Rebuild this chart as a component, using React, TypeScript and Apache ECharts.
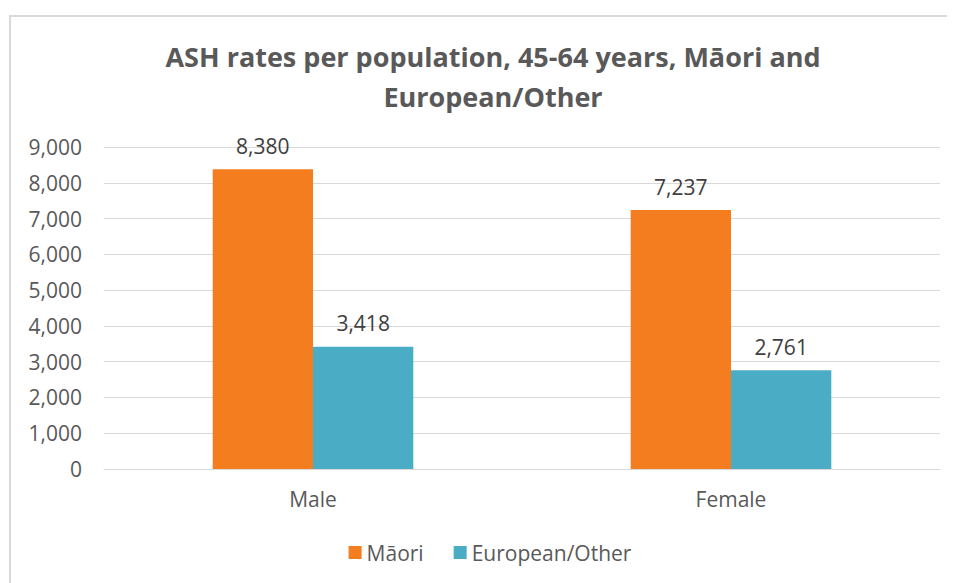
import React, { useEffect, useRef } from "react";
import * as echarts from "echarts";

const categories = ["Male", "Female"];
const maoriValues = [8380, 7237];
const europeanValues = [3418, 2761];
const seriesNames = ["Māori", "European/Other"];
const titleText = "ASH rates per population, 45-64 years, Māori and\nEuropean/Other";

export default function App() {
  const ref = useRef<HTMLDivElement>(null);
  useEffect(() => {
    if (!ref.current) return;
    const chart = echarts.init(ref.current, null, { renderer: "svg" });
    const font = "'Open Sans', 'Noto Sans', sans-serif";
    const labelFmt = (p: any) => Number(p.value).toLocaleString("en-US");
    chart.setOption({
      animation: false,
      textStyle: { fontFamily: font },
      title: {
        text: titleText,
        left: 477,
        top: 14,
        textAlign: "center",
        textStyle: { fontFamily: font, fontSize: 27, fontWeight: "bold", color: "#595959", lineHeight: 40 },
      },
      legend: {
        top: 520,
        left: "center",
        itemWidth: 13,
        itemHeight: 13,
        itemGap: 30,
        icon: "rect",
        textStyle: { fontFamily: font, fontSize: 21, color: "#595959" },
        data: seriesNames,
      },
      grid: { left: 93, right: 29, top: 130, bottom: 114, containLabel: false },
      xAxis: {
        type: "category",
        data: categories,
        axisLine: { lineStyle: { color: "#d9d9d9", width: 1 } },
        axisTick: { show: false },
        axisLabel: { fontFamily: font, fontSize: 21, color: "#595959", margin: 19 },
      },
      yAxis: {
        type: "value",
        min: 0,
        max: 9000,
        interval: 1000,
        axisLine: { show: false },
        axisTick: { show: false },
        splitLine: { lineStyle: { color: "#d9d9d9", width: 1 } },
        axisLabel: {
          fontFamily: font,
          fontSize: 21,
          color: "#595959",
          margin: 22,
          formatter: (v: number) => v.toLocaleString("en-US"),
        },
      },
      series: [
        {
          name: seriesNames[0],
          type: "bar",
          data: maoriValues,
          barGap: "0%",
          barCategoryGap: "52%",
          itemStyle: { color: "#F47D20" },
          label: { show: true, position: "top", distance: 13, fontFamily: font, fontSize: 21, color: "#404040", formatter: labelFmt },
        },
        {
          name: seriesNames[1],
          type: "bar",
          data: europeanValues,
          itemStyle: { color: "#4BACC6" },
          label: { show: true, position: "top", distance: 13, fontFamily: font, fontSize: 21, color: "#404040", formatter: labelFmt },
        },
      ],
    });
    return () => chart.dispose();
  }, []);
  return (
    <div style={{ width: 947, height: 575, overflow: "hidden", position: "relative" }}>
      <div
        style={{
          position: "absolute",
          left: 1,
          top: 7,
          width: 962,
          height: 600,
          border: "2px solid #d9d9d9",
          boxSizing: "border-box",
        }}
      >
        <div ref={ref} style={{ width: 958, height: 566 }} />
      </div>
    </div>
  );
}
